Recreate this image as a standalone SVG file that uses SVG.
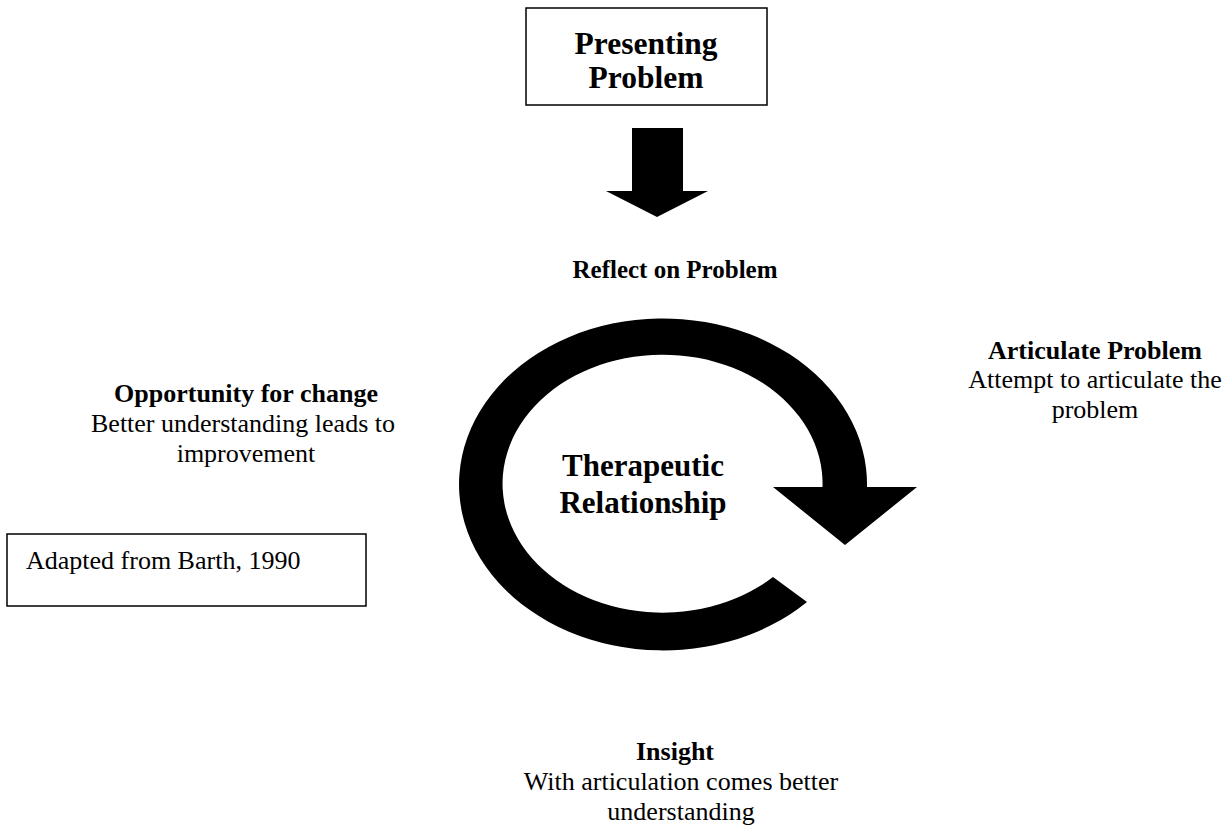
<svg xmlns="http://www.w3.org/2000/svg" width="1231" height="830" viewBox="0 0 1231 830">
<style>
.b{font-family:"Liberation Serif","Times New Roman",serif;font-weight:bold;fill:#000}
.r{font-family:"Liberation Serif","Times New Roman",serif;fill:#000}
.box{fill:#fff;stroke:#000;stroke-width:1.5}
</style>
<rect width="1231" height="830" fill="#fff"/>
<g id="presenting-problem">
<rect class="box" x="526" y="8" width="241" height="97"/>
<text class="b" x="646" y="54" font-size="31.5" text-anchor="middle">Presenting</text>
<text class="b" x="646" y="88" font-size="31.5" text-anchor="middle">Problem</text>
</g>
<g id="connectors">
<path id="down-arrow" d="M632,128 H683 V191 H708 L657,217 L606,191 H632 Z" fill="#000"/>
<path id="cycle-arrow" d="M807,602 A204,166 0 1 1 867,487 L917,487 L845,545 L773,487 L822.5,487 A160,129 0 1 0 773,577 Z" fill="#000"/>
</g>
<g id="reflect">
<text class="b" x="675" y="278" font-size="25" text-anchor="middle">Reflect on Problem</text>
</g>
<g id="articulate">
<text class="b" x="1095" y="359" font-size="26" text-anchor="middle">Articulate Problem</text>
<text class="r" x="1095" y="388" font-size="26" text-anchor="middle">Attempt to articulate the</text>
<text class="r" x="1095" y="418" font-size="26" text-anchor="middle">problem</text>
</g>
<g id="center">
<text class="b" x="643" y="476" font-size="31" text-anchor="middle">Therapeutic</text>
<text class="b" x="643" y="513" font-size="31" text-anchor="middle">Relationship</text>
</g>
<g id="opportunity">
<text class="b" x="246" y="402" font-size="26" text-anchor="middle">Opportunity for change</text>
<text class="r" x="243" y="432" font-size="26" text-anchor="middle">Better understanding leads to</text>
<text class="r" x="246" y="462" font-size="26" text-anchor="middle">improvement</text>
</g>
<g id="source">
<rect class="box" x="7" y="534" width="359" height="72"/>
<text class="r" x="26" y="569" font-size="26">Adapted from Barth, 1990</text>
</g>
<g id="insight">
<text class="b" x="675" y="760" font-size="26" text-anchor="middle">Insight</text>
<text class="r" x="681" y="790" font-size="26" text-anchor="middle">With articulation comes better</text>
<text class="r" x="681" y="820" font-size="26" text-anchor="middle">understanding</text>
</g>
</svg>
